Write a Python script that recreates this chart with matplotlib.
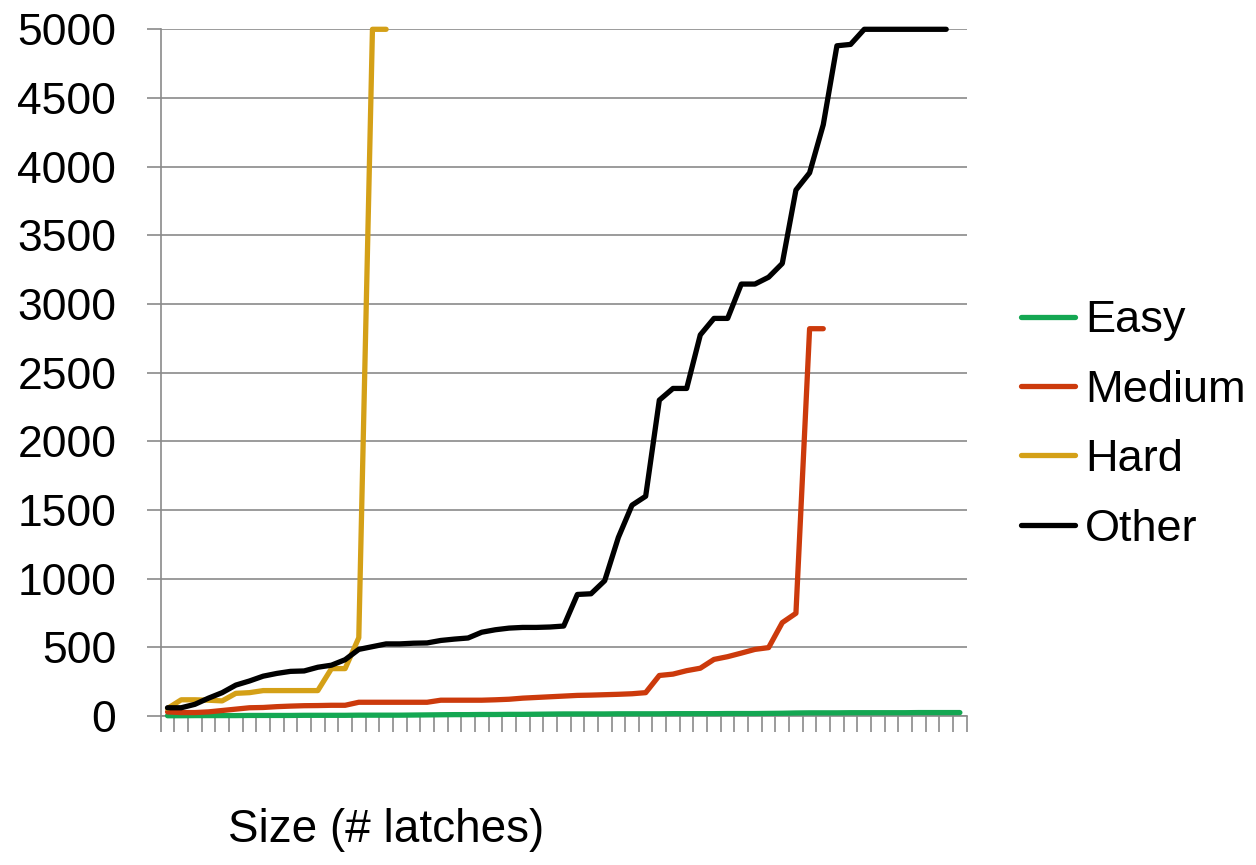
import numpy as np
import matplotlib
matplotlib.use("Agg")
import matplotlib.pyplot as plt

plt.rcParams['font.family'] = ['Liberation Sans', 'DejaVu Sans']

series_names = ["Easy", "Medium", "Hard", "Other"]
n_categories = 59

easy = [2, 2, 3, 3, 3, 3, 4, 4, 4, 4,
        5, 5, 5, 5, 6, 6, 6, 6, 7, 8,
        9, 10, 10, 11, 11, 12, 12, 13, 14, 15,
        15, 15, 15, 16, 16, 16, 16, 17, 17, 17,
        17, 18, 18, 18, 19, 20, 22, 23, 23, 23,
        24, 24, 24, 24, 24, 25, 25, 25, 25]

medium = [30, 25, 25, 30, 40, 50, 60, 62, 68, 72,
          75, 76, 78, 78, 100, 100, 100, 100, 100, 100,
          115, 115, 115, 115, 118, 122, 130, 135, 140, 145,
          150, 152, 155, 158, 162, 170, 295, 305, 330, 348,
          412, 432, 458, 485, 498, 680, 748, 2820, 2820]

hard = [55, 118, 118, 115, 110, 165, 170, 185, 185, 185,
        185, 185, 345, 345, 570, 5000, 5000]

other = [60, 60, 85, 130, 170, 225, 255, 290, 310, 325,
         328, 355, 370, 410, 485, 505, 525, 525, 530, 532,
         550, 560, 568, 610, 628, 640, 645, 645, 648, 655,
         885, 890, 985, 1300, 1535, 1600, 2300, 2385, 2385, 2775,
         2895, 2895, 3145, 3145, 3195, 3295, 3830, 3955, 4305, 4880,
         4890, 5000, 5000, 5000, 5000, 5000, 5000, 5000]

colors = {"Easy": "#14A752", "Medium": "#CC3A0C", "Hard": "#D4A017", "Other": "#000000"}
y_ticks = list(range(0, 5001, 500))
x_label = "Size (# latches)"

fig = plt.figure(figsize=(12.56, 8.65), dpi=100)
ax = fig.add_axes([160.7 / 1256, 1 - 716 / 865, (966.7 - 160.7) / 1256, (716 - 29.3) / 865])

grid_color = "#8A8A8A"
data = {"Easy": easy, "Medium": medium, "Hard": hard, "Other": other}
for name in series_names:
    vals = data[name]
    ax.plot(np.arange(len(vals)), vals, color=colors[name], lw=3.8, label=name,
            solid_joinstyle="round", solid_capstyle="round", clip_on=False, zorder=3)

ax.set_xlim(-0.5, n_categories - 0.5)
ax.set_ylim(0, 5000)
ax.set_yticks(y_ticks)
ax.set_yticklabels([str(v) for v in y_ticks], fontsize=32)
ax.set_xticks(np.arange(-0.5, n_categories, 1.0))
ax.set_xticklabels([])
ax.yaxis.grid(True, color=grid_color, lw=1.2)
ax.set_axisbelow(True)
ax.tick_params(axis="y", direction="out", length=10, width=1.2, color=grid_color, pad=22)
ax.tick_params(axis="x", direction="out", length=11.5, width=1.2, color=grid_color)
for s in ["top", "right"]:
    ax.spines[s].set_visible(False)
for s in ["left", "bottom"]:
    ax.spines[s].set_color(grid_color)
    ax.spines[s].set_linewidth(1.2)

fig.text(386 / 1256, 1 - 842 / 865, x_label, fontsize=33, ha="center", va="baseline")

leg = fig.legend(loc="center left", bbox_to_anchor=(1021 / 1256, 1 - 425 / 865),
                 frameon=False, fontsize=32.5, handlelength=1.2, handletextpad=0.22,
                 labelspacing=0.63, borderpad=0, borderaxespad=0)

fig.savefig("out.png", dpi=100)
